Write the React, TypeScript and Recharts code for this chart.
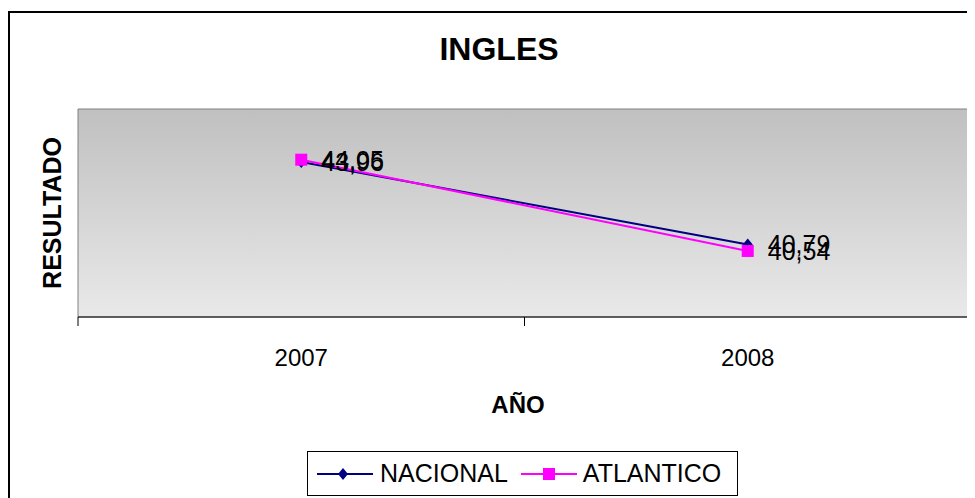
import {
  LineChart,
  Line,
  XAxis,
  YAxis,
  ReferenceArea,
  LabelList,
  Legend,
} from "recharts";

const years = ["2007", "2008"];
const nacional = [43.96, 40.79];
const atlantico = [44.05, 40.54];

// each year sits in the middle of its band on a 0..2 axis
const data = years.map((year, i) => ({
  pos: i + 0.5,
  year,
  nacional: nacional[i],
  atlantico: atlantico[i],
}));

const FONT = "'Liberation Sans', Arial, sans-serif";
const NAVY = "#000080";
const MAGENTA = "#FF00FF";

const fmt = (v: any) => Number(v).toFixed(2).replace(".", ",");

const Diamond = (props: any) => {
  const { cx, cy } = props;
  if (cx == null || cy == null) return null;
  return (
    <polygon
      points={`${cx},${cy - 6} ${cx + 5},${cy} ${cx},${cy + 6} ${cx - 5},${cy}`}
      fill={NAVY}
    />
  );
};

const Square = (props: any) => {
  const { cx, cy } = props;
  if (cx == null || cy == null) return null;
  return <rect x={cx - 6} y={cy - 6} width={12} height={12} fill={MAGENTA} />;
};

const XTick = (props: any) => {
  const { x, y, payload } = props;
  const v = payload.value;
  if (Number.isInteger(v)) {
    return <line x1={x} x2={x} y1={y} y2={y + 9} stroke="#000" />;
  }
  return (
    <text
      x={x}
      y={y + 40}
      textAnchor="middle"
      dominantBaseline="central"
      fontSize={24}
      fontFamily={FONT}
      fill="#000"
    >
      {years[Math.floor(v)]}
    </text>
  );
};

const LegendBox = () => (
  <div
    style={{
      width: 429,
      height: 43,
      border: "1px solid #000",
      background: "#fff",
      display: "flex",
      alignItems: "center",
      fontFamily: FONT,
      fontSize: 25,
      color: "#000",
      boxSizing: "content-box",
    }}
  >
    <svg width={56} height={20} style={{ marginLeft: 9 }}>
      <line x1={0} x2={56} y1={10} y2={10} stroke={NAVY} strokeWidth={2} />
      <polygon points="26,4 31,10 26,16 21,10" fill={NAVY} />
    </svg>
    <span style={{ marginLeft: 7 }}>NACIONAL</span>
    <svg width={56} height={20} style={{ marginLeft: 13 }}>
      <line x1={0} x2={56} y1={10} y2={10} stroke={MAGENTA} strokeWidth={2} />
      <rect x={22} y={4} width={12} height={12} fill={MAGENTA} />
    </svg>
    <span style={{ marginLeft: 6 }}>ATLANTICO</span>
  </div>
);

export default function App() {
  return (
    <div
      style={{
        position: "relative",
        width: 967,
        height: 490,
        overflow: "hidden",
        background: "#fff",
      }}
    >
      <div
        style={{
          position: "absolute",
          left: 0,
          top: 3,
          right: 0,
          bottom: 0,
          borderLeft: "2px solid #000",
          borderTop: "2px solid #000",
        }}
      />
      <LineChart
        width={967}
        height={490}
        data={data}
        margin={{ top: 101, right: 4, bottom: 81, left: 0 }}
        style={{ position: "absolute", left: 0, top: 0 }}
      >
        <defs>
          <linearGradient id="plotBg" x1="0" y1="0" x2="0" y2="1">
            <stop offset="0%" stopColor="#c0c0c0" />
            <stop offset="100%" stopColor="#e9e9e9" />
          </linearGradient>
        </defs>
        <text
          x={491}
          y={41}
          textAnchor="middle"
          dominantBaseline="central"
          fontSize={32}
          fontWeight="bold"
          fontFamily={FONT}
        >
          INGLES
        </text>
        <text
          x={44}
          y={205}
          textAnchor="middle"
          dominantBaseline="central"
          fontSize={25}
          fontWeight="bold"
          fontFamily={FONT}
          transform="rotate(-90 44 205)"
        >
          RESULTADO
        </text>
        <text
          x={510}
          y={396}
          textAnchor="middle"
          dominantBaseline="central"
          fontSize={24}
          fontWeight="bold"
          fontFamily={FONT}
        >
          AÑO
        </text>
        <ReferenceArea
          x1={0}
          x2={2}
          y1={38}
          y2={46}
          fill="url(#plotBg)"
          fillOpacity={1}
          stroke="#808080"
          strokeWidth={1}
        />
        <XAxis
          type="number"
          dataKey="pos"
          domain={[0, 2]}
          ticks={[0, 0.5, 1, 1.5, 2]}
          tickLine={false}
          tickSize={0}
          tickMargin={0}
          tick={<XTick />}
          axisLine={{ stroke: "#000", strokeWidth: 1 }}
          height={100}
          interval={0}
        />
        <YAxis
          type="number"
          domain={[38, 46]}
          width={70}
          tick={false}
          tickLine={false}
          axisLine={false}
        />
        <Legend
          content={<LegendBox />}
          layout="horizontal"
          verticalAlign="middle"
          align="center"
          wrapperStyle={{ left: 299, top: 443, width: 431, height: 45 }}
        />
        <Line
          type="linear"
          dataKey="nacional"
          stroke={NAVY}
          strokeWidth={2}
          dot={<Diamond />}
          activeDot={false}
          isAnimationActive={false}
        >
          <LabelList
            dataKey="nacional"
            position="right"
            offset={20}
            formatter={fmt}
            fontSize={25}
            fontFamily={FONT}
            fill="#000"
          />
        </Line>
        <Line
          type="linear"
          dataKey="atlantico"
          stroke={MAGENTA}
          strokeWidth={2}
          dot={<Square />}
          activeDot={false}
          isAnimationActive={false}
        >
          <LabelList
            dataKey="atlantico"
            position="right"
            offset={20}
            formatter={fmt}
            fontSize={25}
            fontFamily={FONT}
            fill="#000"
          />
        </Line>
      </LineChart>
    </div>
  );
}
